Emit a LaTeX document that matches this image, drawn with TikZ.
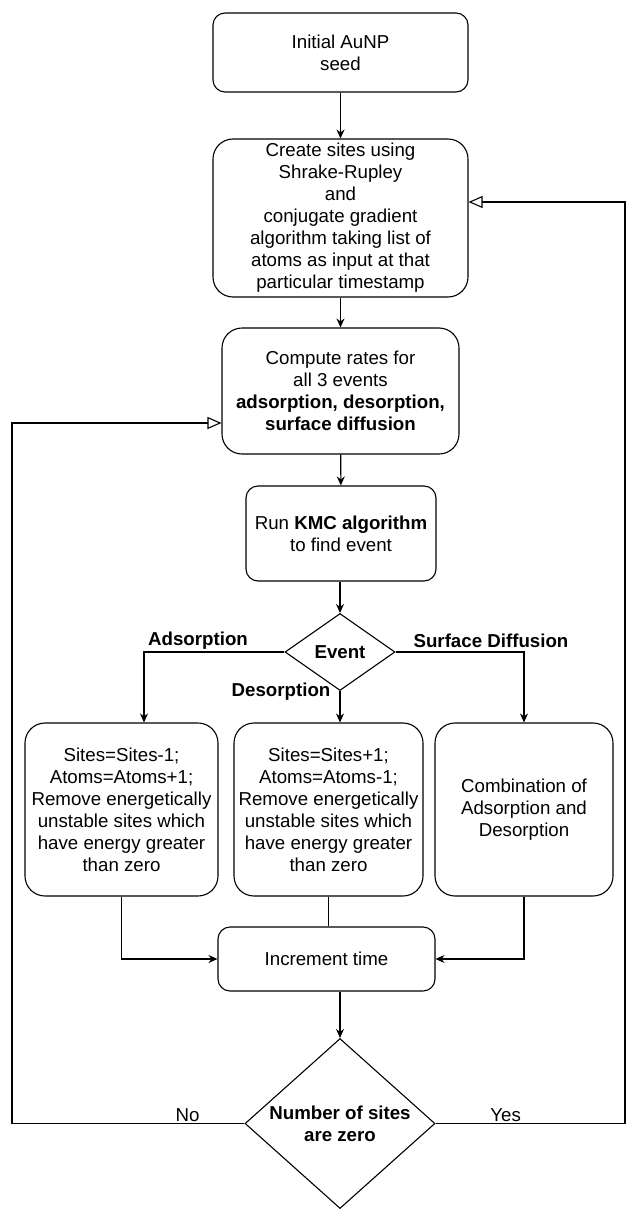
\documentclass[tikz,border=0pt]{standalone}
\usepackage{fontspec}
\setmainfont{Liberation Sans}
\usetikzlibrary{arrows.meta}
\usetikzlibrary{shapes,shapes.geometric}
\newcommand{\chartfont}{\fontsize{18.7}{22}\selectfont}
\tikzset{>={Stealth[length=9pt,width=8pt]}}
\tikzset{
  box/.style={draw, rounded corners=12pt, align=center, inner sep=2pt, line width=1.1pt},
  bigbox/.style={box, rounded corners=20pt},
  decision/.style={draw, diamond, align=center, inner sep=0pt, line width=1.1pt, font=\chartfont\bfseries},
  lbl/.style={font=\chartfont\bfseries, inner sep=1pt},
  flow/.style={->, line width=1.1pt},
  back/.style={-{Triangle[open,length=14pt,width=12pt]}, line width=1.1pt},
}

\begin{document}
\begin{tikzpicture}[x=1pt, y=-1pt, font=\chartfont]
      \useasboundingbox (0,0) rectangle (626,1209);
      \node[box, minimum width=255pt, minimum height=79pt] (seed) at (340.5,52.5) {Initial AuNP\\seed};
      \node[bigbox, minimum width=255pt, minimum height=158pt] (sites) at (340.5,218) {Create sites using\\Shrake-Rupley\\and\\conjugate gradient\\algorithm taking list of\\atoms as input at that\\particular timestamp};
      \node[bigbox, minimum width=237pt, minimum height=126pt] (rates) at (340.5,391) {Compute rates for\\all 3 events\\\textbf{adsorption, desorption,}\\\textbf{surface diffusion}};
      \node[box, minimum width=190pt, minimum height=95pt] (kmc) at (341,533.5) {Run \textbf{KMC algorithm}\\to find event};
      \node[decision, minimum width=110pt, minimum height=77pt] (event) at (340,652) {Event};
      \node[bigbox, minimum width=193pt, minimum height=173pt] (ads) at (121.5,809.5) {Sites=Sites-1;\\Atoms=Atoms+1;\\Remove energetically\\unstable sites which\\have energy greater\\than zero};
      \node[bigbox, minimum width=189pt, minimum height=173pt] (des) at (328.5,809.5) {Sites=Sites+1;\\Atoms=Atoms-1;\\Remove energetically\\unstable sites which\\have energy greater\\than zero};
      \node[bigbox, minimum width=178pt, minimum height=173pt] (dif) at (524,809.5) {Combination of\\Adsorption and\\Desorption};
      \node[box, minimum width=217pt, minimum height=64pt] (inc) at (326.5,959) {Increment time};
      \node[decision, minimum width=190pt, minimum height=170pt, inner sep=-5pt] (stop) at (340,1123.5) {Number of sites\\are zero};
      \node[lbl] (adsl) at (198,641) {Adsorption};
      \node[lbl] (desl) at (281,692) {Desorption};
      \node[lbl] (difl) at (491,641) {Surface Diffusion};
      \coordinate (loopl) at (12,1123.5);
      \coordinate (loopr) at (625,1123.5);
      \draw[flow] (seed) -- (sites);
      \draw[flow] (sites) -- (rates);
      \draw[flow] (rates) -- (kmc);
      \draw[flow] (kmc.south -| event.north) -- (event.north);
      \draw[flow] (event.west) -| ([xshift=22.5pt]ads.north);
      \draw[flow] (event.south) -- (event.south |- des.north);
      \draw[flow] (event.east) -| (dif.north);
      \draw[flow] (ads.south) |- (inc.west);
      \draw[line width=1.1pt] (des.south) -- (des.south |- inc.north);
      \draw[flow] (dif.south) |- (inc.east);
      \draw[flow] (stop.north |- inc.south) -- (stop.north);
      \draw[back] (stop.west) -- node[pos=.245, above, inner sep=1pt] {No} (loopl) |- ([yshift=-32pt]rates.west);
      \draw[back] (stop.east) -- node[pos=.37, above, inner sep=1pt] {Yes} (loopr) |- ([yshift=16pt]sites.east);
    \end{tikzpicture}
\end{document}
